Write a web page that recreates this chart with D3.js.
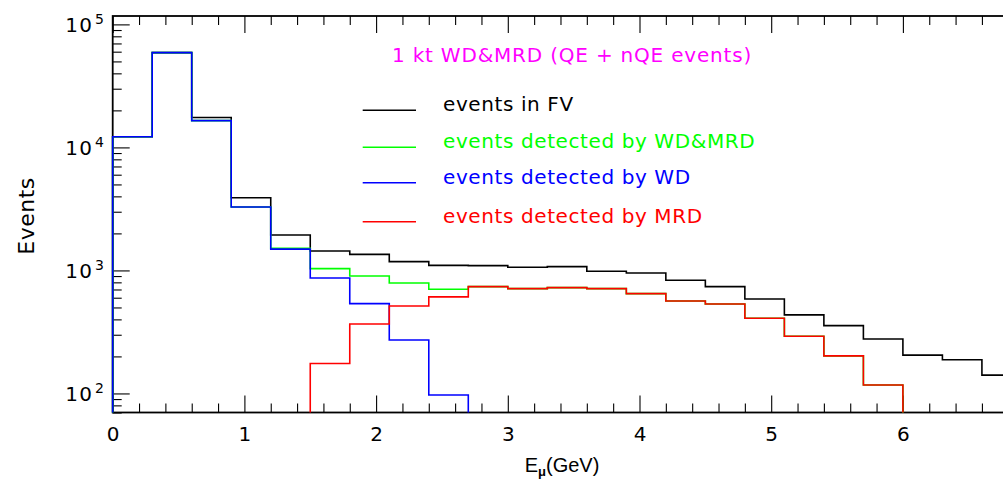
<!DOCTYPE html>
<html>
<head>
<meta charset="utf-8">
<script src="https://cdn.jsdelivr.net/npm/d3@7"></script>
<style>
  html, body { margin: 0; padding: 0; background: #fff; }
  svg { display: block; }
</style>
</head>
<body>
<svg id="chart" width="1003" height="485"></svg>
<script>
// ---- data (bin low edges in GeV, 0.3 GeV wide bins) ----
const binLow = [0, 0.3, 0.6, 0.9, 1.2, 1.5, 1.8, 2.1, 2.4, 2.7, 3.0, 3.3, 3.6, 3.9, 4.2, 4.5, 4.8, 5.1, 5.4, 5.7, 6.0, 6.3, 6.6];
const binWidth = 0.3;
const eventsFV    = [12200, 59000, 17500, 3900, 1940, 1440, 1350, 1180, 1100, 1095, 1062, 1074, 985, 954, 832, 738, 586, 435, 356, 277, 205, 188, 141];
const eventsWDMRD = [12200, 59000, 16500, 3280, 1510, 1035, 902, 791, 703, 738, 711, 725, 711, 648, 565, 534, 408, 292, 202, 117, 0, 0, 0];
const eventsWD    = [12200, 59000, 16500, 3280, 1490, 869, 537, 272, 97, 0, 0, 0, 0, 0, 0, 0, 0, 0, 0, 0, 0, 0, 0];
const eventsMRD   = [0, 0, 0, 0, 0, 175, 367, 514, 609, 738, 711, 725, 711, 648, 565, 534, 408, 292, 202, 117, 0, 0, 0];
const xTickLabels = ["0", "1", "2", "3", "4", "5", "6"];
const yTickExps   = ["2", "3", "4", "5"];
const legendLabels = ["events in FV", "events detected by WD&MRD", "events detected by WD", "events detected by MRD"];
const seriesColors = ["#000000", "#00ff00", "#0000ff", "#ff0000"];
const titleText = "1 kt WD&MRD (QE + nQE events)";

(function () {
// ---- layout ----
const svg = d3.select("#chart");
const pLeft = 112.7, pTop = 16, pBottom = 412.5;
const pxPerGeV = 131.7;
const pRight = pLeft + 7 * pxPerGeV;

const x = d3.scaleLinear().domain([0, 7]).range([pLeft, pRight]);
const y = d3.scaleLog().domain([70, 1.17e5]).range([pBottom, pTop]);

const major = 17, minor = 9;

svg.append("defs").append("clipPath").attr("id", "plotclip")
  .append("rect").attr("x", pLeft - 2).attr("y", pTop).attr("width", pRight - pLeft + 4).attr("height", pBottom - pTop + 1);

const xMajors = xTickLabels.map(Number);
const xMinors = x.ticks(35).filter(v => Math.abs(v - Math.round(v)) > 1e-6);

const gxb = svg.append("g").attr("transform", `translate(0,${pBottom})`)
  .call(d3.axisBottom(x).tickValues(xMajors).tickSize(-major).tickPadding(14)
    .tickFormat((d, i) => xTickLabels[i]));
const gxbm = svg.append("g").attr("transform", `translate(0,${pBottom})`)
  .call(d3.axisBottom(x).tickValues(xMinors).tickSize(-minor).tickFormat(""));
const gxt = svg.append("g").attr("transform", `translate(0,${pTop})`)
  .call(d3.axisTop(x).tickValues(xMajors).tickSize(-major).tickFormat(""));
const gxtm = svg.append("g").attr("transform", `translate(0,${pTop})`)
  .call(d3.axisTop(x).tickValues(xMinors).tickSize(-minor).tickFormat(""));

const yMajors = yTickExps.map(e => Math.pow(10, +e));
const yMinors = y.ticks().filter(v => {
  const l = Math.log10(v); return Math.abs(l - Math.round(l)) > 1e-6;
});
const gyl = svg.append("g").attr("transform", `translate(${pLeft},0)`)
  .call(d3.axisLeft(y).tickValues(yMajors).tickSize(-major).tickFormat(""));
const gylm = svg.append("g").attr("transform", `translate(${pLeft},0)`)
  .call(d3.axisLeft(y).tickValues(yMinors).tickSize(-minor).tickFormat(""));
const gyr = svg.append("g").attr("transform", `translate(${pRight},0)`)
  .call(d3.axisRight(y).tickValues(yMajors).tickSize(-major).tickFormat(""));
const gyrm = svg.append("g").attr("transform", `translate(${pRight},0)`)
  .call(d3.axisRight(y).tickValues(yMinors).tickSize(-minor).tickFormat(""));

[gxb, gxbm, gxt, gxtm, gyl, gylm, gyr, gyrm].forEach(g => {
  g.select(".domain").remove();
  g.selectAll(".tick line").attr("stroke", "#000").attr("stroke-width", 1.1);
});
gxb.selectAll(".tick text")
  .attr("font-family", "DejaVu Sans").attr("font-size", 20).attr("fill", "#000");

svg.append("rect").attr("x", pLeft).attr("y", pTop)
  .attr("width", pRight - pLeft).attr("height", pBottom - pTop)
  .attr("fill", "none").attr("stroke", "#000").attr("stroke-width", 1.8);

const ylab = svg.append("g").attr("font-family", "DejaVu Sans").attr("fill", "#000");
yMajors.forEach((v, i) => {
  const t = ylab.append("text").attr("x", 104).attr("y", y(v) + 7.5)
    .attr("text-anchor", "end").attr("font-size", 20);
  t.append("tspan").attr("letter-spacing", 1.5).text("10");
  t.append("tspan").attr("dx", 1.5).attr("dy", -8).attr("font-size", 14).text(yTickExps[i]);
});

function stepPath(vals) {
  let d = "";
  let inRun = false;
  for (let i = 0; i < vals.length; i++) {
    const v = vals[i];
    const x0 = x(binLow[i]), x1 = x(binLow[i] + binWidth);
    if (v > 0) {
      if (!inRun) { d += `M${x0},${pBottom}L${x0},${y(v)}`; inRun = true; }
      else { d += `L${x0},${y(v)}`; }
      d += `L${x1},${y(v)}`;
    } else if (inRun) {
      d += `L${x0},${pBottom}`; inRun = false;
    }
  }
  if (inRun) d += `L${x(binLow[vals.length - 1] + binWidth)},${pBottom}`;
  return d;
}

const series = [eventsFV, eventsWDMRD, eventsWD, eventsMRD];
const plot = svg.append("g").attr("clip-path", "url(#plotclip)");
series.forEach((vals, i) => {
  plot.append("path").attr("d", stepPath(vals))
    .attr("fill", "none").attr("stroke", seriesColors[i]).attr("stroke-width", 1.6);
});

svg.append("text").attr("x", 392).attr("y", 62)
  .attr("font-family", "DejaVu Sans").attr("font-size", 20).attr("letter-spacing", 0.8)
  .attr("fill", "#ff00ff").text(titleText);

const legY = [110.3, 147.3, 182.7, 221.7];
legendLabels.forEach((lab, i) => {
  svg.append("line").attr("x1", 362.7).attr("x2", 416).attr("y1", legY[i]).attr("y2", legY[i])
    .attr("stroke", seriesColors[i]).attr("stroke-width", 1.6);
  svg.append("text").attr("x", 443).attr("y", legY[i] + 1)
    .attr("font-family", "DejaVu Sans").attr("font-size", 20).attr("letter-spacing", 0.6)
    .attr("fill", seriesColors[i]).text(lab);
});

const xt = svg.append("text").attr("x", 562).attr("y", 472).attr("text-anchor", "middle")
  .attr("font-family", "Liberation Sans").attr("font-size", 20).attr("fill", "#000");
xt.append("tspan").text("E");
xt.append("tspan").attr("dy", 4).attr("font-size", 13).attr("font-weight", "bold").text("\u03bc");
xt.append("tspan").attr("dy", -4).text("(GeV)");

svg.append("text").attr("transform", "translate(33.5,216) rotate(-90)")
  .attr("text-anchor", "middle").attr("font-family", "DejaVu Sans").attr("font-size", 22)
  .attr("letter-spacing", 0.5).attr("fill", "#000").text("Events");
})();
</script>
</body>
</html>
